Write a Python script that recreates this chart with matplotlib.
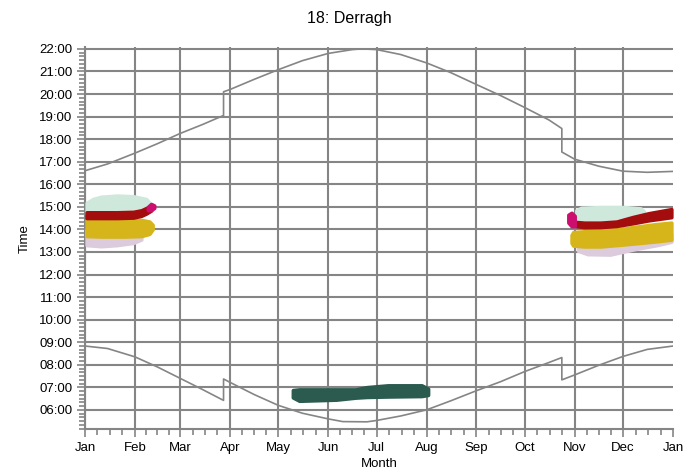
import numpy as np
import matplotlib
matplotlib.use("Agg")
import matplotlib.pyplot as plt
from matplotlib.ticker import FixedLocator, FuncFormatter

plt.rcParams["font.family"] = ["Liberation Sans", "DejaVu Sans"]

GRID = "#858585"
CURVE = "#858585"

MONTHS = ["Jan", "Feb", "Mar", "Apr", "May", "Jun", "Jul", "Aug", "Sep", "Oct", "Nov", "Dec", "Jan"]
MONTH_START = [0, 31, 59, 90, 120, 151, 181, 212, 243, 273, 304, 334, 365]
HOURS = list(range(6, 23))

# sunset / sunrise (day of year, decimal hours), with the two clock changes
SUN_DAYS = [0, 14, 31, 45, 59, 73, 86, 86, 90, 105, 120, 135, 151, 166, 172, 181, 196,
            212, 227, 243, 258, 273, 288, 296, 296, 304, 319, 334, 349, 365]
SUNSET = [16.6, 16.9, 17.38, 17.8, 18.25, 18.65, 19.05, 20.1, 20.2, 20.65, 21.08, 21.48,
          21.8, 21.97, 22.0, 21.97, 21.75, 21.38, 20.95, 20.42, 19.93, 19.4, 18.85, 18.47,
          17.43, 17.11, 16.8, 16.58, 16.53, 16.57]
RISE_DAYS = [0, 14, 31, 45, 59, 73, 86, 86, 90, 105, 120, 135, 151, 160, 175, 181, 196,
             212, 227, 243, 258, 273, 288, 296, 296, 304, 319, 334, 349, 365]
SUNRISE = [8.83, 8.72, 8.35, 7.9, 7.4, 6.9, 6.42, 7.37, 7.22, 6.68, 6.2, 5.85, 5.6, 5.48,
           5.47, 5.53, 5.73, 6.0, 6.4, 6.85, 7.25, 7.7, 8.1, 8.32, 7.33, 7.55, 7.98, 8.37,
           8.68, 8.83]

# shadow flicker periods per turbine: (color, days, lower, upper)
FLICKER = [
    # winter, Jan-Feb
    ("#dccbdc", [1, 10, 20, 30, 35], [13.3, 13.25, 13.3, 13.4, 13.55], [13.98, 13.98, 13.98, 13.9, 13.8]),
    ("#d6b51a", [1, 10, 25, 35, 40, 42], [13.7, 13.68, 13.68, 13.7, 13.8, 14.0], [14.43, 14.43, 14.43, 14.42, 14.35, 14.2]),
    ("#cfe8dc", [1, 5, 10, 20, 30, 38, 41], [14.7, 14.68, 14.68, 14.68, 14.7, 14.75, 14.95], [15.18, 15.35, 15.45, 15.5, 15.47, 15.35, 15.1]),
    ("#a30d0d", [1, 10, 20, 30, 35, 38, 41, 42], [14.5, 14.5, 14.5, 14.52, 14.6, 14.7, 14.83, 14.95], [14.76, 14.76, 14.76, 14.78, 14.85, 14.95, 15.04, 15.08]),
    ("#cc0f6e", [39, 41, 43], [14.85, 14.85, 14.95], [15.0, 15.13, 15.06]),
    # winter, Nov-Dec
    ("#dccbdc", [306, 312, 326, 341, 355, 364], [13.05, 12.9, 12.88, 13.12, 13.3, 13.45], [13.4, 13.5, 13.5, 13.6, 13.7, 13.8]),
    ("#d6b51a", [302, 303, 310, 320, 333, 345, 355, 364], [13.4, 13.28, 13.24, 13.24, 13.32, 13.4, 13.47, 13.54], [13.75, 13.88, 13.92, 13.96, 14.04, 14.15, 14.24, 14.3]),
    ("#cfe8dc", [305, 308, 320, 335, 345, 347], [14.3, 14.2, 14.15, 14.2, 14.35, 14.5], [14.85, 14.96, 14.99, 14.99, 14.93, 14.8]),
    ("#a30d0d", [305, 310, 320, 330, 340, 350, 364], [14.14, 14.1, 14.1, 14.15, 14.27, 14.4, 14.54], [14.33, 14.3, 14.3, 14.35, 14.55, 14.72, 14.9]),
    ("#cc0f6e", [300, 302, 304], [14.3, 14.14, 14.14], [14.65, 14.74, 14.6]),
    # summer, May-Aug
    ("#2b5a4e", [129, 133, 156, 168, 175, 188, 209, 213], [6.55, 6.4, 6.45, 6.54, 6.57, 6.59, 6.61, 6.66], [6.88, 6.91, 6.91, 6.91, 7.01, 7.09, 7.09, 6.94]),
]


def main():
    fig = plt.figure(figsize=(6.99, 4.75), dpi=100)
    ax = fig.add_axes([0.1216, 0.0958, 0.8412, 0.806])

    for m in MONTH_START[:-1]:
        ax.axvline(m, color=GRID, lw=1.5, zorder=1)
    for h in HOURS:
        ax.axhline(h, color=GRID, lw=1.5, zorder=1)

    ax.plot(SUN_DAYS, SUNSET, color=CURVE, lw=1.2, zorder=2)
    ax.plot(RISE_DAYS, SUNRISE, color=CURVE, lw=1.2, zorder=2)

    for color, days, lo, hi in FLICKER:
        ax.fill_between(days, lo, hi, facecolor=color, edgecolor=color, lw=2.5,
                        joinstyle="round", zorder=3)

    ax.set_xlim(0, 365)
    ax.set_ylim(5.13, 22.1)
    ax.xaxis.set_major_locator(FixedLocator(MONTH_START))
    ax.set_xticklabels(MONTHS)
    minor_x = []
    for a, b in zip(MONTH_START[:-1], MONTH_START[1:]):
        minor_x += [a + (b - a) * k / 4 for k in (1, 2, 3)]
    ax.xaxis.set_minor_locator(FixedLocator(minor_x))
    ax.yaxis.set_major_locator(FixedLocator(HOURS))
    ax.yaxis.set_major_formatter(FuncFormatter(lambda v, p: f"{int(round(v)):02d}:00"))
    ax.yaxis.set_minor_locator(FixedLocator([h + k / 6 for h in range(5, 22) for k in range(1, 6)]))

    for s in ("top", "right"):
        ax.spines[s].set_visible(False)
    for s in ("left", "bottom"):
        ax.spines[s].set_color(GRID)
        ax.spines[s].set_linewidth(1.5)
    ax.tick_params(which="both", color=GRID, width=1.2, labelsize=9.5)
    ax.tick_params(which="major", length=5.5)
    ax.tick_params(which="minor", length=4)

    fig.text(0.5, 0.962, "18: Derragh", fontsize=11.5, ha="center", va="center")
    ax.set_xlabel("Month", fontsize=9.5, labelpad=3)
    ax.set_ylabel("Time", fontsize=9.5, labelpad=6)

    fig.savefig("out.png", dpi=100, facecolor="white")


if __name__ == "__main__":
    main()
